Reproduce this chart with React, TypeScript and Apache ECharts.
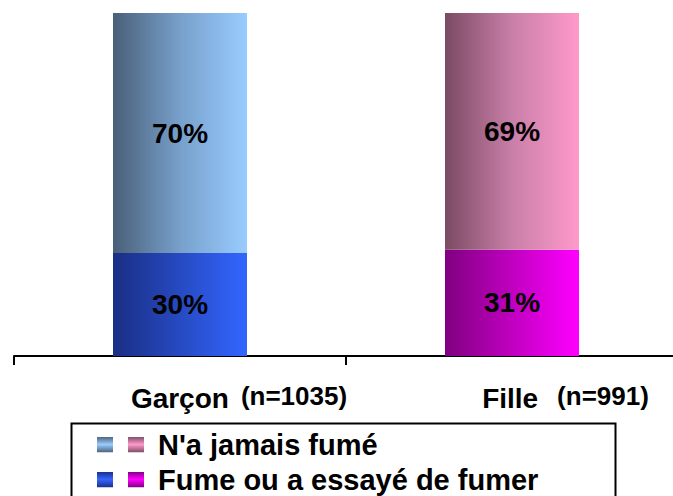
import React, { useEffect, useRef } from 'react';
import * as echarts from 'echarts';

const categories = ['Garçon', 'Fille'];
const sampleSizes = ['(n=1035)', '(n=991)'];
const seriesNames = ["N'a jamais fumé", 'Fume ou a essayé de fumer'];
const neverSmoked = [70, 69];
const triedSmoking = [30, 31];

const FONT = "'Liberation Sans', Arial, sans-serif";

const hGrad = (stops: [number, string][]) => ({
  type: 'linear', x: 0, y: 0, x2: 1, y2: 0,
  colorStops: stops.map(([offset, color]) => ({ offset, color })),
});

const topColors = [
  hGrad([[0, '#4a5f78'], [0.5, '#77a0cb'], [1, '#99ccff']]),
  hGrad([[0, '#7b4a63'], [0.5, '#c97fa8'], [1, '#ff99cc']]),
];
const bottomColors = [
  hGrad([[0, '#1a2e84'], [1, '#3366ff']]),
  hGrad([[0, '#800080'], [1, '#ff00ff']]),
];

const iconSvg = (a: [string, string], b: [string, string]) => {
  const svg =
    `<svg xmlns='http://www.w3.org/2000/svg' width='56' height='16' viewBox='0 0 56 16'>` +
    `<defs><linearGradient id='a' x1='0' y1='0' x2='0' y2='1'><stop offset='0' stop-color='${a[0]}'/><stop offset='0.5' stop-color='${a[1]}'/><stop offset='1' stop-color='${a[0]}'/></linearGradient>` +
    `<linearGradient id='b' x1='0' y1='0' x2='0' y2='1'><stop offset='0' stop-color='${b[0]}'/><stop offset='0.5' stop-color='${b[1]}'/><stop offset='1' stop-color='${b[0]}'/></linearGradient></defs>` +
    `<rect x='0' y='0' width='16' height='16' fill='url(#a)'/><rect x='31' y='0' width='16' height='16' fill='url(#b)'/></svg>`;
  return 'image://data:image/svg+xml;charset=utf-8,' + encodeURIComponent(svg);
};

export default function App() {
  const ref = useRef<HTMLDivElement>(null);
  useEffect(() => {
    if (!ref.current) return;
    const chart = echarts.init(ref.current, null, { renderer: 'svg' });
    const labelStyle = {
      show: true,
      position: 'inside',
      formatter: '{c}%',
      color: '#000',
      fontSize: 28,
      fontWeight: 'bold',
      fontFamily: FONT,
    };
    chart.setOption({
      animation: false,
      grid: { left: 14, right: 2, top: 13, bottom: 140, containLabel: false },
      legend: {
        orient: 'vertical',
        left: 97,
        top: 430,
        itemWidth: 56,
        itemHeight: 16,
        itemGap: 6,
        padding: 0,
        selectedMode: false,
        textStyle: { color: '#000', fontSize: 29, fontWeight: 'bold', fontFamily: FONT },
        data: [
          { name: seriesNames[0], icon: iconSvg(['#4a5f78', '#99ccff'], ['#7b4a63', '#ff99cc']) },
          { name: seriesNames[1], icon: iconSvg(['#1a2e84', '#3366ff'], ['#800080', '#ff00ff']) },
        ],
      },
      graphic: [
        {
          type: 'rect',
          left: 69,
          top: 421,
          shape: { width: 544, height: 90 },
          style: { fill: 'none', stroke: '#000', lineWidth: 2 },
          z: -1,
        },
      ],
      xAxis: {
        type: 'category',
        data: categories,
        axisLine: { lineStyle: { color: '#000', width: 2 } },
        axisTick: { show: true, length: 9, lineStyle: { color: '#000', width: 2 } },
        axisLabel: {
          interval: 0,
          margin: 27,
          formatter: (value: string, index: number) =>
            `{sp${index}| }{name|${value}}{n${index}|${sampleSizes[index]}}`,
          rich: {
            sp0: { width: 118 },
            sp1: { width: 107 },
            name: { fontSize: 28, fontWeight: 'bold', fontFamily: FONT, color: '#000' },
            n0: { fontSize: 26, fontWeight: 'bold', fontFamily: FONT, color: '#000', padding: [0, 0, 4, 12] },
            n1: { fontSize: 26, fontWeight: 'bold', fontFamily: FONT, color: '#000', padding: [0, 0, 4, 19] },
          },
        },
      },
      yAxis: { type: 'value', min: 0, max: 100, show: false, splitLine: { show: false } },
      series: [
        {
          name: seriesNames[1],
          type: 'bar',
          stack: 'total',
          barWidth: 134,
          data: triedSmoking.map((v, i) => ({ value: v, itemStyle: { color: bottomColors[i] } })),
          label: labelStyle,
        },
        {
          name: seriesNames[0],
          type: 'bar',
          stack: 'total',
          barWidth: 134,
          data: neverSmoked.map((v, i) => ({ value: v, itemStyle: { color: topColors[i] } })),
          label: labelStyle,
        },
      ],
    });
    return () => chart.dispose();
  }, []);
  return (
    <div style={{ position: 'fixed', left: 0, top: 0, width: 673, height: 496, overflow: 'hidden', background: '#fff' }}>
      <div ref={ref} style={{ width: 680, height: 496 }} />
    </div>
  );
}
